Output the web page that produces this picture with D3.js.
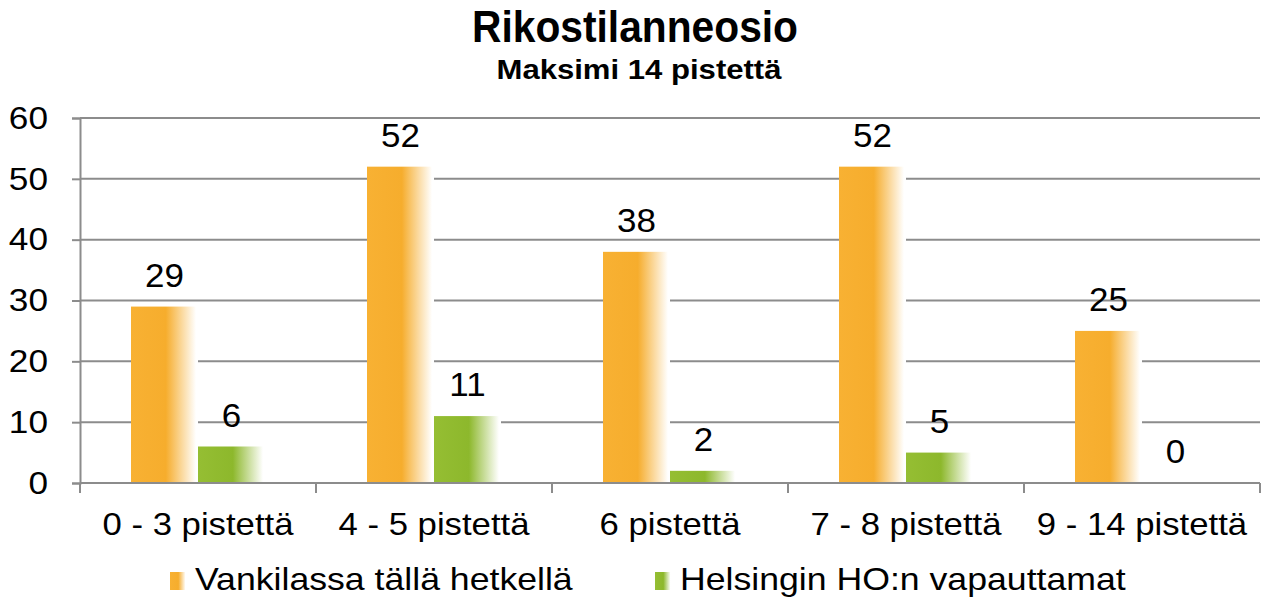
<!DOCTYPE html>
<html>
<head>
<meta charset="utf-8">
<script src="https://cdn.jsdelivr.net/npm/d3@7"></script>
<style>
  body { margin: 0; background: #fff; }
  text { font-family: "Liberation Sans", Arial, sans-serif; fill: #000; }
</style>
</head>
<body>
<script>
// chart data
let categories = ['0 - 3 pistettä', '4 - 5 pistettä', '6 pistettä', '7 - 8 pistettä', '9 - 14 pistettä']
let seriesNames = ['Vankilassa tällä hetkellä', 'Helsingin HO:n vapauttamat']
let vankilassa = [29, 52, 38, 52, 25]
let helsinki = [6, 11, 2, 5, 0]
let yTicks = [0, 10, 20, 30, 40, 50, 60]

// measurements
let m = { width: 1267, height: 601, left: 80, right: 1260, top: 118, bottom: 483, groupPad: 51 }

let svg = d3.select('body')
  .append('svg')
  .attr('width', m.width)
  .attr('height', m.height)

// gradients for the bars (solid on the left, fade to white on the right)
let defs = svg.append('defs')
let colors = [
  { id: 'gOrange', base: '#F8B133', mid: '#F6AD2D' },
  { id: 'gGreen', base: '#95BE33', mid: '#8DB82C' }
]
colors.forEach(function(c) {
  let g = defs.append('linearGradient').attr('id', c.id)
    .attr('x1', '0%').attr('x2', '100%').attr('y1', '0%').attr('y2', '0%')
  g.append('stop').attr('offset', '0%').attr('stop-color', c.base)
  g.append('stop').attr('offset', '52%').attr('stop-color', c.mid)
  g.append('stop').attr('offset', '97%').attr('stop-color', '#ffffff')
})

let x = d3.scaleBand()
  .domain(categories)
  .range([m.left, m.right])

let x1 = d3.scaleBand()
  .domain(seriesNames)
  .range([m.groupPad, x.bandwidth() - m.groupPad])

let y = d3.scaleLinear()
  .domain([0, 60])
  .range([m.bottom, m.top])

// title
svg.append('text')
  .attr('x', 635).attr('y', 42)
  .attr('text-anchor', 'middle')
  .attr('font-size', 45).attr('font-weight', 'bold')
  .attr('textLength', 326).attr('lengthAdjust', 'spacingAndGlyphs')
  .text('Rikostilanneosio')

svg.append('text')
  .attr('x', 639).attr('y', 79)
  .attr('text-anchor', 'middle')
  .attr('font-size', 27).attr('font-weight', 'bold')
  .attr('textLength', 285).attr('lengthAdjust', 'spacingAndGlyphs')
  .text('Maksimi 14 pistettä')

// grid lines
svg.append('g')
  .selectAll('line')
  .data(yTicks.filter(function(d) { return d > 0 }))
  .enter()
  .append('line')
    .attr('x1', m.left).attr('x2', m.right)
    .attr('y1', function(d) { return y(d) })
    .attr('y2', function(d) { return y(d) })
    .attr('stroke', '#8c8c8c')
    .attr('stroke-width', 2)

// y axis
let yAxis = svg.append('g')
  .attr('transform', 'translate(' + m.left + ',0)')
  .call(d3.axisLeft(y).tickValues(yTicks).tickSize(8).tickPadding(0))
yAxis.select('.domain').attr('stroke', '#8c8c8c').attr('stroke-width', 2)
yAxis.selectAll('.tick line').attr('stroke', '#8c8c8c').attr('stroke-width', 2)
yAxis.selectAll('.tick text')
  .attr('x', null)
  .attr('transform', 'translate(-32,0) scale(1.1,1)')
  .attr('font-size', 32)
  .attr('font-family', '"Liberation Sans", Arial, sans-serif')
  .attr('fill', '#000')

// bars
let groups = svg.append('g')
  .selectAll('g')
  .data(categories)
  .enter()
  .append('g')
    .attr('transform', function(d) { return 'translate(' + x(d) + ',0)' })

let barData = function(d, i) {
  return [
    { name: seriesNames[0], value: vankilassa[i], fill: 'url(#gOrange)' },
    { name: seriesNames[1], value: helsinki[i], fill: 'url(#gGreen)' }
  ]
}

groups.selectAll('rect')
  .data(barData)
  .enter()
  .append('rect')
    .attr('x', function(d) { return x1(d.name) })
    .attr('y', function(d) { return y(d.value) })
    .attr('width', x1.bandwidth())
    .attr('height', function(d) { return y(0) - y(d.value) })
    .attr('fill', function(d) { return d.fill })

// value labels
groups.selectAll('.val')
  .data(barData)
  .enter()
  .append('text')
    .attr('class', 'val')
    .attr('transform', function(d) {
      return 'translate(' + (x1(d.name) + x1.bandwidth() / 2) + ',' + (y(d.value) - 20) + ') scale(1.06,1)'
    })
    .attr('text-anchor', 'middle')
    .attr('font-size', 33)
    .text(function(d) { return d.value })

// x axis
let xAxis = svg.append('g')
  .attr('transform', 'translate(0,' + m.bottom + ')')
xAxis.append('line')
  .attr('x1', m.left).attr('x2', m.right)
  .attr('stroke', '#8c8c8c').attr('stroke-width', 2)
xAxis.selectAll('.tk')
  .data(categories.concat(['end']))
  .enter()
  .append('line')
    .attr('x1', function(d, i) { return m.left + i * x.bandwidth() })
    .attr('x2', function(d, i) { return m.left + i * x.bandwidth() })
    .attr('y1', 0).attr('y2', 10)
    .attr('stroke', '#8c8c8c').attr('stroke-width', 2)
xAxis.selectAll('.lbl')
  .data(categories)
  .enter()
  .append('text')
    .attr('transform', function(d) {
      return 'translate(' + (x(d) + x.bandwidth() / 2) + ',52) scale(1.12,1)'
    })
    .attr('text-anchor', 'middle')
    .attr('font-size', 31)
    .text(function(d) { return d })

// legend
let legendX = [170, 655]
let legend = svg.append('g')
  .selectAll('g')
  .data(seriesNames)
  .enter()
  .append('g')
    .attr('transform', function(d, i) { return 'translate(' + legendX[i] + ',572)' })
legend.append('rect')
  .attr('width', 16).attr('height', 18)
  .attr('fill', function(d, i) { return i == 0 ? 'url(#gOrange)' : 'url(#gGreen)' })
legend.append('text')
  .attr('transform', 'translate(25,18) scale(1.15,1)')
  .attr('font-size', 31)
  .text(function(d) { return d })
</script>
</body>
</html>
